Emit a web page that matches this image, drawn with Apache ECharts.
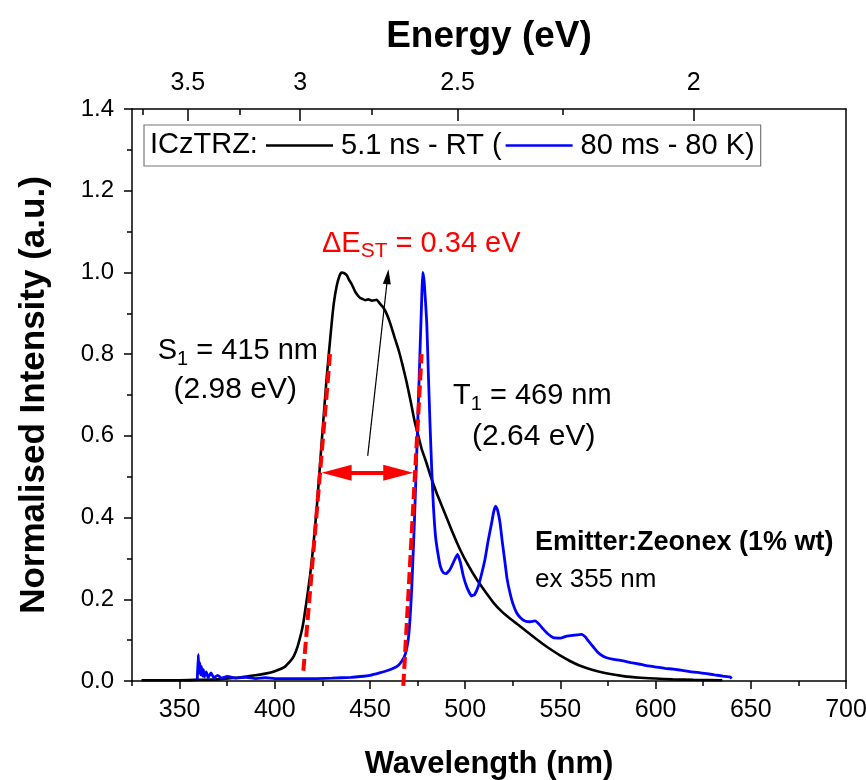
<!DOCTYPE html>
<html>
<head>
<meta charset="utf-8">
<script src="https://cdn.jsdelivr.net/npm/echarts@6/dist/echarts.min.js"></script>
<style>
  html, body { margin: 0; padding: 0; background: #fff; }
  #chart { width: 866px; height: 780px; }
</style>
</head>
<body>
<div id="chart"></div>
<script>
const FONT = '"Liberation Sans", Arial, Helvetica, sans-serif';

// ICzTRZ in Zeonex, 5.1 ns delay, room temperature (normalised)
const rtWavelength = [330, 340, 350, 360, 370, 380, 385, 390, 395, 400, 405, 408, 410, 412, 414, 415, 416.5, 418.5, 420, 422, 424.6, 427.3, 429.9, 431, 432.5, 434, 435.1, 436.5, 437.8, 439, 440.4, 442, 443.5, 444.7, 446, 447.5, 449.1, 451, 453.5, 455, 457, 458.8, 460.5, 462.5, 464.9, 467, 469.3, 471.5, 473.6, 475.5, 477.2, 479.5, 481.5, 485, 488.5, 493, 497.3, 501.5, 506, 510.5, 514.8, 519, 523.5, 528, 532.3, 537, 541, 545, 550, 555, 560, 567, 574, 583, 592, 600, 609, 620, 635];
const rtIntensity  = [0.002, 0.002, 0.002, 0.003, 0.004, 0.008, 0.011, 0.014, 0.018, 0.024, 0.034, 0.048, 0.061, 0.085, 0.120, 0.143, 0.190, 0.257, 0.320, 0.421, 0.583, 0.746, 0.877, 0.925, 0.967, 0.992, 1.000, 0.998, 0.993, 0.982, 0.971, 0.955, 0.944, 0.938, 0.935, 0.932, 0.934, 0.931, 0.933, 0.925, 0.914, 0.898, 0.877, 0.847, 0.812, 0.775, 0.730, 0.681, 0.632, 0.598, 0.567, 0.536, 0.506, 0.460, 0.420, 0.368, 0.322, 0.284, 0.249, 0.219, 0.192, 0.171, 0.153, 0.137, 0.121, 0.104, 0.090, 0.077, 0.062, 0.049, 0.038, 0.027, 0.019, 0.012, 0.008, 0.006, 0.004, 0.003, 0.002];

// ICzTRZ in Zeonex, 80 ms delay, 80 K (phosphorescence, normalised)
const ltWavelength = [359.3, 359.8, 360.2, 360.6, 361.0, 361.5, 362, 362.5, 363, 364, 365, 366.5, 368, 370, 372, 375, 380, 385, 390, 395, 400, 410, 420, 430, 440, 445, 450, 455, 460, 464, 466.5, 468.5, 470.1, 471, 471.9, 473.3, 474.5, 475.9, 477.2, 477.7, 478.5, 479.8, 480.6, 481.5, 482.4, 483.3, 484.5, 485.9, 487, 488.5, 490, 492, 494, 495.9, 497.5, 499, 501, 503.4, 505, 506.9, 508.5, 510.4, 512, 513.9, 515, 516, 517, 518.3, 519.5, 520.9, 522, 523.5, 525, 527, 529, 531.4, 534, 536.7, 539, 541, 543.5, 546.3, 550, 553.3, 557, 561.2, 563, 564.7, 567, 569.9, 572, 574.3, 578, 583, 587, 591.8, 596, 600.5, 605, 609.3, 614, 618, 622, 626.8, 631, 635.5, 639, 640];
const ltIntensity  = [0.005, 0.065, 0.020, 0.045, 0.015, 0.035, 0.012, 0.028, 0.010, 0.022, 0.008, 0.020, 0.008, 0.014, 0.007, 0.011, 0.007, 0.009, 0.006, 0.008, 0.006, 0.006, 0.006, 0.007, 0.009, 0.011, 0.014, 0.020, 0.027, 0.035, 0.047, 0.065, 0.102, 0.150, 0.224, 0.387, 0.551, 0.754, 0.942, 1.000, 0.975, 0.877, 0.760, 0.632, 0.520, 0.428, 0.350, 0.306, 0.280, 0.265, 0.263, 0.273, 0.292, 0.310, 0.290, 0.257, 0.228, 0.208, 0.212, 0.232, 0.260, 0.298, 0.342, 0.387, 0.415, 0.428, 0.418, 0.387, 0.340, 0.290, 0.250, 0.216, 0.190, 0.167, 0.155, 0.147, 0.145, 0.147, 0.138, 0.127, 0.115, 0.106, 0.105, 0.110, 0.112, 0.114, 0.108, 0.098, 0.085, 0.069, 0.062, 0.057, 0.053, 0.049, 0.045, 0.041, 0.037, 0.034, 0.031, 0.029, 0.026, 0.023, 0.021, 0.018, 0.015, 0.012, 0.010, 0.006];

// Axis ticks
const wavelengthTicks = [350, 400, 450, 500, 550, 600, 650, 700];
const wavelengthMinorTicks = [325, 375, 425, 475, 525, 575, 625, 675];
const energyTicks = [3.5, 3, 2.5, 2];
const energyMinorTicks = [3.75, 3.25, 2.75, 2.25];
const HC = 1240; // eV·nm, photon energy <-> wavelength

// Onset tangents and annotation arrows (tail -> tip), in (nm, intensity)
const s1Tangent = [[415.0, 0.025], [429.0, 0.80]];
const t1Tangent = [[467.5, -0.012], [477.1, 0.80]];
const gapArrow = [[424.6, 0.51], [472.7, 0.51]];
const pointerArrow = [[448.8, 0.551], [459.7, 1.008]];

const X_MIN = 325, X_MAX = 700;
const zip = (xs, ys) => xs.map((x, i) => [x, ys[i]]);

const chart = echarts.init(document.getElementById('chart'), null, { renderer: 'canvas' });

const baseX = {
  type: 'value', min: X_MIN, max: X_MAX,
  splitLine: { show: false },
  axisLine: { show: true, lineStyle: { color: '#000', width: 1.5 } }
};
const tickFont = { fontSize: 25, color: '#000', fontFamily: FONT };
const subRich = (color, main, sub) => ({
  m: { fontSize: main, fontFamily: FONT, fill: color, lineHeight: 36, verticalAlign: 'middle' },
  s: { fontSize: sub, fontFamily: FONT, fill: color, lineHeight: sub, verticalAlign: 'bottom' }
});

// markLine symbols are centred on the end points; pull the ends in by half
// an arrowhead so the tips land on the given coordinates.
const GAP_HEAD = 30, POINTER_HEAD = 15;
function insetEnd(from, to, px) {
  const a = chart.convertToPixel({ gridIndex: 0 }, from);
  const b = chart.convertToPixel({ gridIndex: 0 }, to);
  const len = Math.hypot(b[0] - a[0], b[1] - a[1]);
  const p = [b[0] - (b[0] - a[0]) / len * px, b[1] - (b[1] - a[1]) / len * px];
  return chart.convertFromPixel({ gridIndex: 0 }, p);
}

function arrowSeries(id, from, to, symbols, size, style) {
  return {
    id: id, name: id, type: 'line', data: [], z: 6,
    markLine: {
      silent: true, animation: false,
      symbol: symbols, symbolSize: size,
      label: { show: false },
      lineStyle: style,
      emphasis: { disabled: true },
      data: from ? [[{ coord: from }, { coord: to }]] : []
    }
  };
}

function buildSeries(gapFrom, gapTo, pointerTo) {
  return [
    {
      id: 'rt', name: '5.1 ns - RT (', type: 'line', data: zip(rtWavelength, rtIntensity),
      showSymbol: false, smooth: 0.15, color: '#000',
      lineStyle: { color: '#000', width: 2.6 }, z: 3
    },
    {
      id: 'lt', name: '80 ms - 80 K)', type: 'line', data: zip(ltWavelength, ltIntensity),
      showSymbol: false, smooth: 0.15, color: '#0000ff',
      lineStyle: { color: '#0000ff', width: 2.8 }, z: 4
    },
    {
      id: 's1', name: 'S1 onset', type: 'line', data: s1Tangent, showSymbol: false, clip: false,
      lineStyle: { color: '#ff0000', width: 4, type: [12, 5] }, z: 5
    },
    {
      id: 't1', name: 'T1 onset', type: 'line', data: t1Tangent, showSymbol: false, clip: false,
      lineStyle: { color: '#ff0000', width: 4, type: [12, 5] }, z: 5
    },
    arrowSeries('gap', gapFrom, gapTo, ['triangle', 'triangle'], [16, GAP_HEAD],
      { color: '#ff0000', width: 4, type: 'solid' }),
    arrowSeries('pointer', pointerArrow[0], pointerTo, ['none', 'triangle'], [8, POINTER_HEAD],
      { color: '#000', width: 1.2, type: 'solid' })
  ];
}

const option = {
  backgroundColor: '#fff',
  animation: false,
  textStyle: { fontFamily: FONT },
  grid: { left: 132, top: 109, width: 714, height: 572, containLabel: false, outerBoundsMode: 'none' },
  legend: {
    left: 144, top: 125,
    padding: [6, 6, 6, 122],
    itemGap: 4,
    itemWidth: 67, itemHeight: 2.5,
    icon: 'rect',
    selectedMode: false,
    borderColor: '#777', borderWidth: 1.2,
    textStyle: { fontSize: 29, color: '#000', fontFamily: FONT, padding: [0, 0, 0, 3] },
    data: ['5.1 ns - RT (', '80 ms - 80 K)']
  },
  xAxis: [
    Object.assign({}, baseX, {
      position: 'bottom',
      name: 'Wavelength (nm)', nameLocation: 'middle', nameGap: 68,
      nameTextStyle: { fontSize: 31, fontWeight: 'bold', color: '#000', fontFamily: FONT },
      axisTick: { show: true, customValues: wavelengthTicks, length: 8, lineStyle: { color: '#000', width: 1.5 } },
      axisLabel: Object.assign({ show: true, customValues: wavelengthTicks, margin: 17 }, tickFont)
    }),
    Object.assign({}, baseX, {
      position: 'bottom',
      axisLine: { show: false },
      axisTick: { show: true, customValues: wavelengthMinorTicks, length: 5, lineStyle: { color: '#000', width: 1.5 } },
      axisLabel: { show: false }
    }),
    Object.assign({}, baseX, {
      position: 'top',
      name: 'Energy (eV)', nameLocation: 'middle', nameGap: 54,
      nameTextStyle: { fontSize: 37, fontWeight: 'bold', color: '#000', fontFamily: FONT },
      axisTick: { show: true, inside: true, customValues: energyTicks.map(e => HC / e), length: 12, lineStyle: { color: '#000', width: 1.5 } },
      axisLabel: Object.assign({
        show: true, customValues: energyTicks.map(e => HC / e), margin: 13,
        formatter: v => String(+(HC / v).toFixed(2))
      }, tickFont)
    }),
    Object.assign({}, baseX, {
      position: 'top',
      axisLine: { show: false },
      axisTick: { show: true, inside: true, customValues: energyMinorTicks.map(e => HC / e), length: 6, lineStyle: { color: '#000', width: 1.5 } },
      axisLabel: { show: false }
    })
  ],
  yAxis: [
    {
      type: 'value', position: 'left', min: 0, max: 1.4, interval: 0.2,
      name: 'Normalised Intensity (a.u.)', nameLocation: 'middle', nameGap: 80,
      nameTextStyle: { fontSize: 35, fontWeight: 'bold', color: '#000', fontFamily: FONT },
      splitLine: { show: false },
      axisLine: { show: true, lineStyle: { color: '#000', width: 1.5 } },
      axisTick: { show: true, length: 8, lineStyle: { color: '#000', width: 1.5 } },
      minorTick: { show: true, splitNumber: 2, length: 5, lineStyle: { color: '#000', width: 1.5 } },
      axisLabel: Object.assign({ margin: 18, formatter: v => v.toFixed(1) }, tickFont, { fontSize: 24 })
    },
    {
      type: 'value', position: 'right', min: 0, max: 1.4,
      splitLine: { show: false },
      axisLine: { show: true, lineStyle: { color: '#000', width: 1.5 } },
      axisTick: { show: false }, axisLabel: { show: false }
    }
  ],
  series: buildSeries(null, null, null),
  graphic: [
    { type: 'text', left: 150, top: 130, z: 20,
      style: { text: 'ICzTRZ:', font: '29px ' + FONT, fill: '#000' } },
    { type: 'text', x: 322, y: 244, z: 20,
      style: { text: '{m|ΔE}{s|ST}{m| = 0.34 eV}', fill: '#ff0000', verticalAlign: 'middle', rich: subRich('#ff0000', 29, 21) } },
    { type: 'text', x: 318, y: 351, z: 20,
      style: { text: '{m|S}{s|1}{m| = 415 nm}', fill: '#000', align: 'right', verticalAlign: 'middle', rich: subRich('#000', 29, 20) } },
    { type: 'text', x: 297, y: 390, z: 20,
      style: { text: '(2.98 eV)', font: '30px ' + FONT, fill: '#000', align: 'right', verticalAlign: 'middle' } },
    { type: 'text', x: 453, y: 396, z: 20,
      style: { text: '{m|T}{s|1}{m| = 469 nm}', fill: '#000', verticalAlign: 'middle', rich: subRich('#000', 29, 20) } },
    { type: 'text', x: 472, y: 437, z: 20,
      style: { text: '(2.64 eV)', font: '30px ' + FONT, fill: '#000', verticalAlign: 'middle' } },
    { type: 'text', x: 535, y: 543, z: 20,
      style: { text: 'Emitter:Zeonex (1% wt)', font: 'bold 27px ' + FONT, fill: '#000', verticalAlign: 'middle' } },
    { type: 'text', x: 535, y: 580, z: 20,
      style: { text: 'ex 355 nm', font: '26px ' + FONT, fill: '#000', verticalAlign: 'middle' } }
  ]
};

chart.setOption(option);

// Arrows are placed once the grid exists, so the tips land exactly.
const gapFrom = insetEnd(gapArrow[1], gapArrow[0], GAP_HEAD / 2);
const gapTo = insetEnd(gapArrow[0], gapArrow[1], GAP_HEAD / 2);
const pointerTo = insetEnd(pointerArrow[0], pointerArrow[1], POINTER_HEAD / 2);
chart.setOption({ series: buildSeries(gapFrom, gapTo, pointerTo) });
</script>
</body>
</html>
